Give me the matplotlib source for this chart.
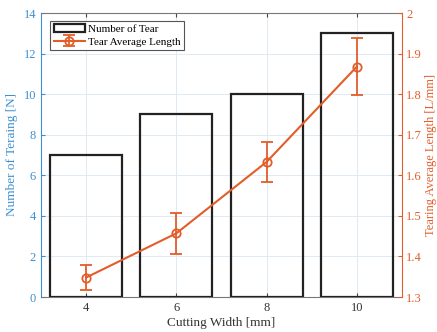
import matplotlib
matplotlib.use("Agg")
import matplotlib.pyplot as plt
from matplotlib.ticker import FuncFormatter

widths = [4, 6, 8, 10]
num_tear = [7, 9, 10, 13]
avg_len = [1.348, 1.457, 1.633, 1.868]
avg_err = [0.03, 0.05, 0.05, 0.07]

plt.rcParams['font.family'] = ['Liberation Serif', 'DejaVu Serif']
blue = '#3d8fd1'
orange = '#e35d2a'

fig = plt.figure(figsize=(4.37, 3.32), dpi=100)
ax = fig.add_axes([41/437, 1-297/332, 361/437, 284/332])
ax.bar(widths, num_tear, width=1.6, facecolor='none', edgecolor='#222222', linewidth=1.6, label='Number of Tear', zorder=3)
ax.set_xlim(3, 11)
ax.set_ylim(0, 14)
ax.set_xticks(widths)
ax.set_yticks(range(0, 15, 2))
ax.grid(True, color='#dfeaf3', linewidth=0.7, zorder=0)
ax.set_axisbelow(True)
ax.tick_params(axis='y', colors=blue, direction='in', labelsize=9, length=3)
ax.tick_params(axis='x', colors='#444444', direction='in', labelsize=9, length=3, top=True, labelcolor='#333333')
ax.spines['left'].set_color(blue)
ax.spines['right'].set_visible(False)
for s in ['top', 'bottom']:
    ax.spines[s].set_color('#777777')
    ax.spines[s].set_linewidth(0.8)
ax.set_xlabel('Cutting Width [mm]', fontsize=9.5, color='#333333', labelpad=2)
ax.set_ylabel('Number of Teraing [N]', fontsize=9.5, color=blue, labelpad=4)

ax2 = ax.twinx()
ax2.errorbar(widths, avg_len, yerr=avg_err, color=orange, marker='o', markersize=6,
             markerfacecolor='none', markeredgewidth=1.3, linewidth=1.5, capsize=4,
             elinewidth=1.3, capthick=1.3, label='Tear Average Length', zorder=4)
ax2.set_ylim(1.3, 2.0)
ax2.set_yticks([1.3, 1.4, 1.5, 1.6, 1.7, 1.8, 1.9, 2.0])
ax2.yaxis.set_major_formatter(FuncFormatter(lambda v, p: ('%.1f' % v).rstrip('0').rstrip('.')))
ax2.tick_params(axis='y', colors=orange, direction='in', labelsize=9, length=3, pad=3)
ax2.spines['right'].set_color(orange)
for s in ['top', 'bottom', 'left']:
    ax2.spines[s].set_visible(False)
ax2.set_ylabel('Tearing Average Length [L/mm]', fontsize=9, color=orange, labelpad=2)

h1, l1 = ax.get_legend_handles_labels()
h2, l2 = ax2.get_legend_handles_labels()
leg = ax2.legend(h1 + h2, l1 + l2, loc='upper left', bbox_to_anchor=(0.02, 0.98), fontsize=8,
                 frameon=True, fancybox=False, edgecolor='#555555', framealpha=1,
                 borderpad=0.3, handlelength=2.8, handletextpad=0.3, labelspacing=0.25, borderaxespad=0.2)
leg.get_frame().set_linewidth(0.8)

fig.savefig('out.png', dpi=100)
